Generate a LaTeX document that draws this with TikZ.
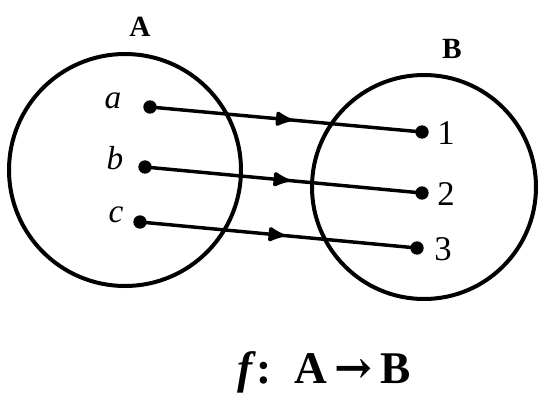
\documentclass[tikz,border=0pt]{standalone}
\usepackage{fontspec}
\setmainfont{Liberation Serif}
\newfontfamily\arrowfont{DejaVu Serif}
\usetikzlibrary{decorations.markings,arrows.meta}
\begin{document}
\begin{tikzpicture}[x=0.75pt,y=-0.75pt,
  setcirc/.style={draw=black,line width=3pt},
  pt/.style={circle,fill=black,inner sep=0pt,minimum size=10pt},
  maplink/.style={line width=2.6pt,postaction={decorate},
    decoration={markings,mark=at position 0.52 with {\arrow{Latex[length=15pt,width=13pt,round]}}}},
  setlabel/.style={font=\fontsize{22}{24}\selectfont\bfseries},
  elem/.style={font=\fontsize{25}{27}\selectfont\itshape},
  num/.style={font=\fontsize{26}{28}\selectfont}]
\useasboundingbox (0,0) rectangle (539,396);
\fill[white] (0,0) rectangle (539,396);
\node[setcirc,circle,minimum size=174pt,inner sep=0pt] (A) at (125,170) {};
\node[setcirc,circle,minimum size=168pt,inner sep=0pt] (B) at (424,187) {};
\node[setlabel] (lA) at (140,27) {A};
\node[setlabel] (lB) at (452,49) {B};
\node[pt] (a) at (150,107) {};
\node[pt] (b) at (145,167) {};
\node[pt] (c) at (140,222) {};
\node[pt] (p1) at (422,132) {};
\node[pt] (p2) at (422,193) {};
\node[pt] (p3) at (417,248) {};
\node[elem] (la) at (113,101) {a};
\node[elem] (lb) at (115,158) {b};
\node[elem] (lc) at (116,215) {c};
\node[num] (l1) at (446,133) {1};
\node[num] (l2) at (446,194) {2};
\node[num] (l3) at (443,249) {3};
\draw[maplink] (a.center) -- (p1.center);
\draw[maplink] (b.center) -- (p2.center);
\draw[maplink] (c.center) -- (p3.center);
\node[font=\fontsize{34}{36}\selectfont\bfseries] (fmap) at (324,372) {\textit{f}:\, A\,{\arrowfont\bfseries →}\,B};
\end{tikzpicture}
\end{document}
